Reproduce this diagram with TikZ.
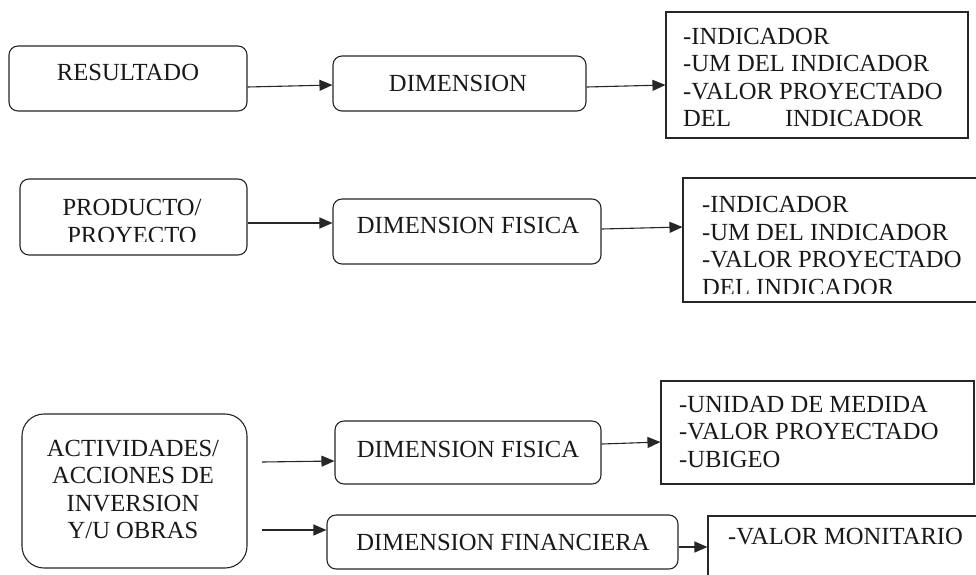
\documentclass[tikz,border=0pt]{standalone}
\usepackage{fontspec}
\setmainfont{Liberation Serif}
\usetikzlibrary{arrows.meta}
\begin{document}
\begin{tikzpicture}[x=1pt,y=-1pt,
  rbox/.style={draw=black!85, line width=1.1pt, rounded corners=9pt, inner sep=0pt},
  sbox/.style={draw=black!85, line width=1.1pt, inner sep=0pt},
  txt/.style={font=\fontsize{24.6}{27.5}\selectfont, inner sep=0pt, text=black!90},
  arr/.style={draw=black!85, line width=1.1pt, -{Triangle[length=13pt,width=11pt]}}]
\clip (0,0) rectangle (976,574);
\fill[white] (0,0) rectangle (976,574);

% ---- row 1
\node[rbox, minimum width=238pt, minimum height=65pt] (res) at (128,78.5) {};
\node[txt] (resT) at (128,72) {RESULTADO};
\node[rbox, minimum width=253pt, minimum height=55pt] (dim1) at (459.5,83.5) {};
\node[txt] (dim1T) at (458,83) {DIMENSION};
\node[sbox, minimum width=302pt, minimum height=126pt] (ind1) at (817,75) {};
\node[txt, align=left, anchor=west] (ind1T) at (683,77.5)
  {-INDICADOR\\-UM DEL INDICADOR\\-VALOR PROYECTADO\\DEL\hspace{54pt}INDICADOR};

% ---- row 2
\node[rbox, minimum width=227pt, minimum height=76pt] (prod) at (133.5,217) {};
\begin{scope}
  \clip (20,179) rectangle (247,241.5);
  \node[txt, align=center] (prodT) at (132,221.5) {PRODUCTO/\\PROYECTO};
\end{scope}
\node[rbox, minimum width=268pt, minimum height=65pt] (dim2) at (467,231.5) {};
\node[txt] (dim2T) at (468,225) {DIMENSION FISICA};
\node[sbox, minimum width=310pt, minimum height=124pt] (ind2) at (838,240) {};
\begin{scope}
  \clip (683,178) rectangle (976,293);
  \node[txt, align=left, anchor=west] (ind2T) at (702,246)
    {-INDICADOR\\-UM DEL INDICADOR\\-VALOR PROYECTADO\\DEL INDICADOR};
\end{scope}

% ---- row 3
\node[rbox, rounded corners=22pt, minimum width=225pt, minimum height=154pt] (act) at (134.5,491) {};
\node[txt, align=center] (actT) at (133,489.5)
  {ACTIVIDADES/\\ACCIONES DE\\INVERSION\\Y/U OBRAS};
\node[rbox, minimum width=266pt, minimum height=63pt] (dim3) at (468,452.5) {};
\node[txt] (dim3T) at (468,449) {DIMENSION FISICA};
\node[sbox, minimum width=313pt, minimum height=103pt] (unid) at (817.5,432.5) {};
\node[txt, align=left, anchor=west] (unidT) at (679,431.5)
  {-UNIDAD DE MEDIDA\\-VALOR PROYECTADO\\-UBIGEO};
\node[rbox, minimum width=351pt, minimum height=54pt] (dimf) at (502.5,542) {};
\node[txt] (dimfT) at (503,542) {DIMENSION FINANCIERA};
\node[sbox, minimum width=290pt, minimum height=80pt] (val) at (853,556) {};
\node[txt, anchor=west] (valT) at (728,537) {-VALOR MONITARIO};

% free arrow starts
\coordinate (s5) at (262,462);
\coordinate (s6) at (262,530);

% ---- connectors
\draw[arr] (res.east |- 0,87) -- (dim1.west |- 0,85);
\draw[arr] (dim1.east |- 0,87) -- (ind1.west |- 0,85);
\draw[arr] (prod.east |- 0,223) -- (dim2.west |- 0,223);
\draw[arr] (dim2.east |- 0,229) -- (ind2.west |- 0,227);
\draw[arr] (s5) -- (dim3.west |- 0,461);
\draw[arr] (s6) -- (dimf.west |- 0,530);
\draw[arr] (dim3.east |- 0,444) -- (unid.west |- 0,442);
\draw[arr] (dimf.east |- 0,547) -- (val.west |- 0,547);
\end{tikzpicture}
\end{document}
